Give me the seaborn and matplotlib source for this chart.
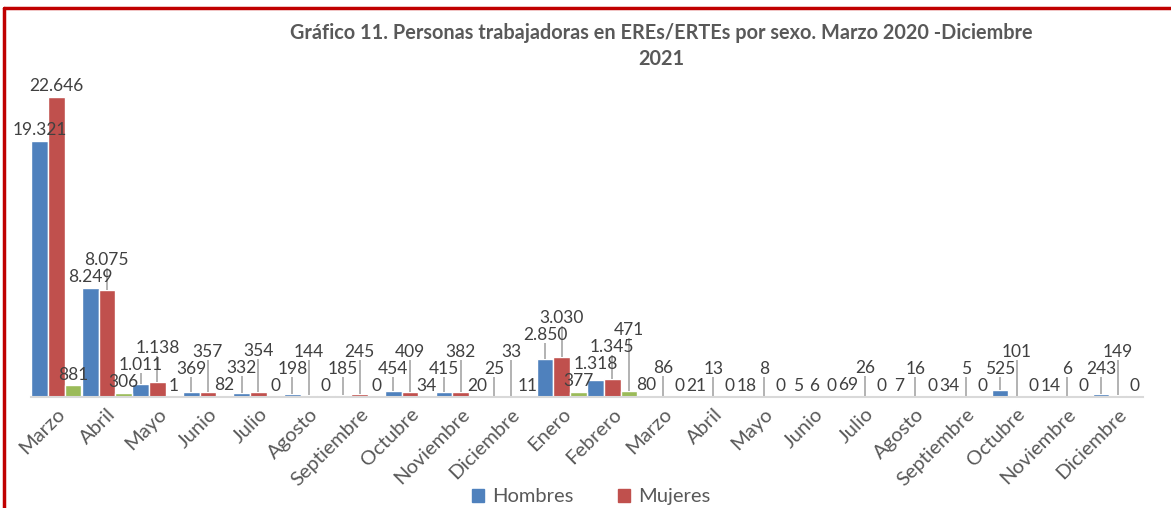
import pandas as pd
import seaborn as sns
from matplotlib import pyplot as plt
from matplotlib.lines import Line2D
from matplotlib.patches import Patch

# months from Marzo 2020 to Diciembre 2021
months = ['Marzo', 'Abril', 'Mayo', 'Junio', 'Julio', 'Agosto', 'Septiembre',
          'Octubre', 'Noviembre', 'Diciembre', 'Enero', 'Febrero', 'Marzo',
          'Abril', 'Mayo', 'Junio', 'Julio', 'Agosto', 'Septiembre', 'Octubre',
          'Noviembre', 'Diciembre']

hombres = [19321, 8249, 1011, 369, 332, 198, 185, 454, 415, 25, 2850, 1318,
           80, 21, 18, 5, 69, 7, 34, 525, 14, 243]
mujeres = [22646, 8075, 1138, 357, 354, 144, 245, 409, 382, 33, 3030, 1345,
           86, 13, 8, 6, 26, 16, 5, 101, 6, 149]
otros = [881, 306, 1, 82, 0, 0, 0, 34, 20, 11, 377, 471,
         0, 0, 0, 0, 0, 0, 0, 0, 0, 0]

series = ['Hombres', 'Mujeres', 'Otros']
colors = ['#4F81BD', '#C0504D', '#9BBB59']

LABEL_FS = 12.5


def build_frame():
    keys = [f'{i:02d}' for i in range(len(months))]
    rows = []
    for name, vals in zip(series, [hombres, mujeres, otros]):
        for k, v in zip(keys, vals):
            rows.append({'mes': k, 'serie': name, 'valor': v})
    return pd.DataFrame(rows), keys


def fmt(v):
    return f'{int(round(v)):,}'.replace(',', '.')


def place_labels(fig, ax):
    """Put value labels above bars, lifting those that would collide,
    with a short grey leader line like the Excel original."""
    px = fig.dpi / 72.0
    renderer = fig.canvas.get_renderer()
    items = []
    for cont in ax.containers:
        for b in cont:
            xc = b.get_x() + b.get_width() / 2
            val = b.get_height()
            X, Y = ax.transData.transform((xc, val))
            items.append((X, Y, xc, val))
    items.sort(key=lambda t: t[0])
    placed = []
    for X, Y, xc, val in items:
        ann = ax.annotate(fmt(val), xy=(xc, val), xytext=(0, 2),
                          textcoords='offset points', ha='center', va='bottom',
                          fontsize=LABEL_FS, color='#404040')
        bb = ann.get_window_extent(renderer)
        w = bb.width + 2
        h = bb.height + 1
        bottom = Y + 2 * px
        moved = True
        while moved:
            moved = False
            for (l, r, b0, t0) in placed:
                if X - w / 2 < r and X + w / 2 > l and bottom < t0 and bottom + h > b0:
                    bottom = t0
                    moved = True
        placed.append((X - w / 2, X + w / 2, bottom, bottom + h))
        ann.xyann = (0, (bottom - Y) / px)
        if bottom - Y > 10:
            y_top = ax.transData.inverted().transform((X, bottom))[1]
            ax.plot([xc, xc], [val, y_top], color='#A6A6A6', lw=1.2,
                    solid_capstyle='butt')


if __name__ == '__main__':
    data, keys = build_frame()

    sns.set_style('white')
    plt.rcParams['font.family'] = ['Lato', 'DejaVu Sans']

    fig = plt.figure(figsize=(11.71, 5.08), dpi=100)
    ax = fig.add_axes([0.0265, 0.2185, 0.9495, 0.652])

    sns.barplot(ax=ax, data=data, x='mes', y='valor', hue='serie', order=keys,
                hue_order=series, palette=colors, width=0.99, gap=0,
                errorbar=None, saturation=1, legend=False)

    ax.set_ylim(0, 25000)
    ax.set_xlim(-0.5, len(months) - 0.5)
    ax.set_xticks(range(len(months)))
    ax.set_xticklabels(months, rotation=45, ha='right', rotation_mode='anchor',
                       fontsize=14.5, color='#595959')
    ax.tick_params(axis='x', length=0, pad=6)
    ax.set_yticks([])
    ax.set_xlabel('')
    ax.set_ylabel('')
    for s in ['top', 'right', 'left']:
        ax.spines[s].set_visible(False)
    ax.spines['bottom'].set_color('#D9D9D9')
    ax.spines['bottom'].set_linewidth(1.5)

    place_labels(fig, ax)
    ax.set_ylim(0, 25000)
    ax.set_xlim(-0.5, len(months) - 0.5)

    fig.text(0.5645, 0.909,
             'Gráfico 11. Personas trabajadoras en EREs/ERTEs por sexo. Marzo 2020 -Diciembre\n2021',
             ha='center', va='center', fontsize=14.3, fontweight='bold',
             color='#595959', linespacing=1.35)

    handles = [Patch(color=colors[0]), Patch(color=colors[1])]
    fig.legend(handles, ['Hombres', 'Mujeres'], loc='center',
               bbox_to_anchor=(0.505, 0.022), ncol=2, frameon=False,
               fontsize=14.5, handlelength=0.6, handleheight=0.6,
               columnspacing=2.2, handletextpad=0.4, labelcolor='#595959')

    # red frame of the original picture
    x0 = 4 / 1171
    y1 = 1 - 8 / 508
    fig.add_artist(Line2D([x0, x0], [0, y1], color='#C00000', lw=2.5,
                          transform=fig.transFigure))
    fig.add_artist(Line2D([x0, 1], [y1, y1], color='#C00000', lw=2.5,
                          transform=fig.transFigure))

    fig.savefig('out.png', dpi=100)
    print('Done!')
